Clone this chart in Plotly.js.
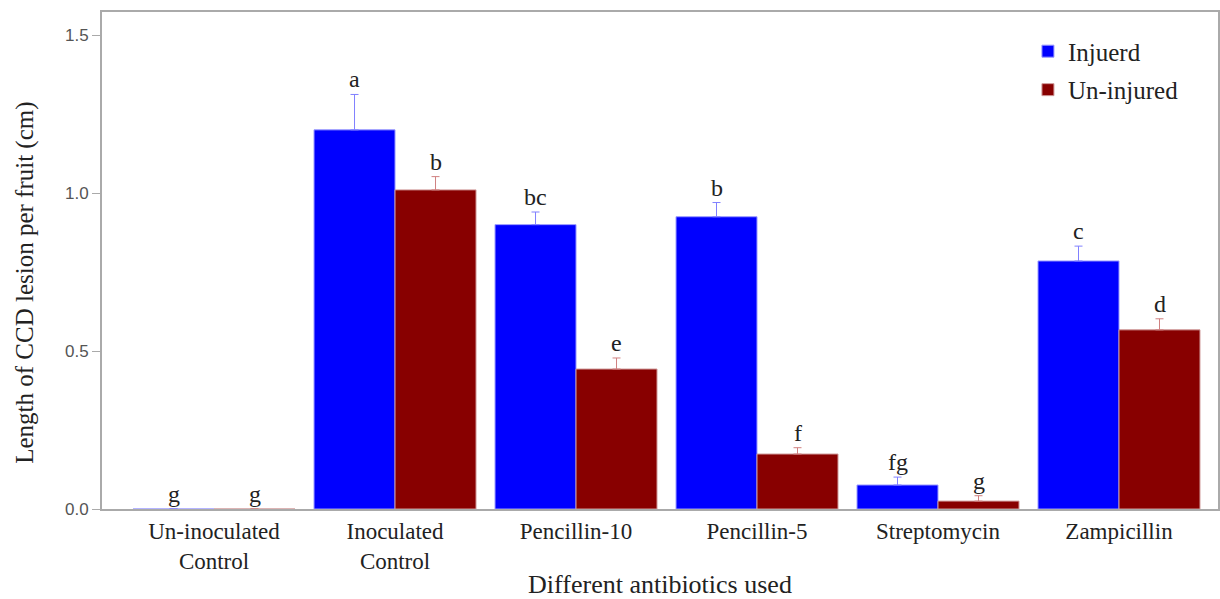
<!DOCTYPE html>
<html>
<head>
<meta charset="utf-8">
<script src="https://cdn.plot.ly/plotly-3.0.1.min.js"></script>
<style>html,body{margin:0;padding:0;background:#fff;}#chart{width:1220px;height:599px;}</style>
</head>
<body>
<div id="chart"></div>
<script>
const categories = ["Un-inoculated<br>Control", "Inoculated<br>Control", "Pencillin-10", "Pencillin-5", "Streptomycin", "Zampicillin"];
const injured = [0, 1.20, 0.90, 0.925, 0.076, 0.785];
const injuredErr = [0, 0.112, 0.04, 0.045, 0.025, 0.047];
const injuredLetters = ["g", "a", "bc", "b", "fg", "c"];
const uninjured = [0, 1.01, 0.443, 0.174, 0.025, 0.567];
const uninjuredErr = [0, 0.042, 0.035, 0.02, 0.017, 0.035];
const uninjuredLetters = ["g", "b", "e", "f", "g", "d"];

const serif = "Liberation Serif, Times New Roman, serif";
const textColor = "#222";

const traces = [
  {
    type: "bar", name: "Injuerd", x: categories, y: injured,
    marker: {color: "#0000ff", line: {color: "#9a9aff", width: 1}},
    error_y: {type: "data", symmetric: false, array: injuredErr, arrayminus: injuredErr.map(() => 0),
              color: "#8080ff", thickness: 1, width: 4},
    legendgroup: "a"
  },
  {
    type: "bar", name: "Un-injured", x: categories, y: uninjured,
    marker: {color: "#880000", line: {color: "#d09a9a", width: 1}},
    error_y: {type: "data", symmetric: false, array: uninjuredErr, arrayminus: uninjuredErr.map(() => 0),
              color: "#d08080", thickness: 1, width: 4},
    legendgroup: "b"
  }
];

const annotations = [];
categories.forEach((c, i) => {
  annotations.push({x: c, y: injured[i] + injuredErr[i], xref: "x", yref: "y", text: injuredLetters[i],
    showarrow: false, xshift: -40.5, yanchor: "bottom", yshift: 0,
    font: {family: serif, size: 24, color: textColor}});
  annotations.push({x: c, y: uninjured[i] + uninjuredErr[i], xref: "x", yref: "y", text: uninjuredLetters[i],
    showarrow: false, xshift: 40.5, yanchor: "bottom", yshift: 0,
    font: {family: serif, size: 24, color: textColor}});
});
annotations.push({
  text: "Length of CCD lesion per fruit (cm)", xref: "paper", yref: "paper", x: -0.069, y: 0.455,
  xanchor: "center", yanchor: "middle", textangle: -90, showarrow: false,
  font: {family: serif, size: 25, color: textColor}
});

const layout = {
  width: 1220, height: 599,
  margin: {l: 102, r: 2, t: 12, b: 90},
  paper_bgcolor: "#fff", plot_bgcolor: "#fff",
  barmode: "group", bargap: 0.105, bargroupgap: 0,
  showlegend: true,
  legend: {x: 0.8297, y: 0.967, xanchor: "left", yanchor: "top", bgcolor: "rgba(0,0,0,0)",
           font: {family: serif, size: 25, color: textColor}, tracegroupgap: 3, traceorder: "grouped"},
  xaxis: {
    range: [-0.619, 5.547], showgrid: false, zeroline: false,
    showline: true, linecolor: "#aaa", linewidth: 2, mirror: true, ticks: "",
    tickfont: {family: serif, size: 23, color: textColor},
    title: {text: "Different antibiotics used", font: {family: serif, size: 26, color: textColor}, standoff: 6}
  },
  yaxis: {
    range: [0, 1.573], showgrid: false, zeroline: false,
    showline: true, linecolor: "#aaa", linewidth: 2, mirror: true,
    ticks: "outside", ticklen: 8, tickcolor: "#aaa", tickwidth: 1,
    tickvals: [0, 0.5, 1.0, 1.5], ticktext: ["0.0", "0.5", "1.0", "1.5"],
    tickfont: {family: "Liberation Sans, Arial, sans-serif", size: 17, color: "#555"},
    title: {text: ""}
  },
  annotations: annotations
};

Plotly.newPlot("chart", traces, layout, {displayModeBar: false, staticPlot: true});
</script>
</body>
</html>
